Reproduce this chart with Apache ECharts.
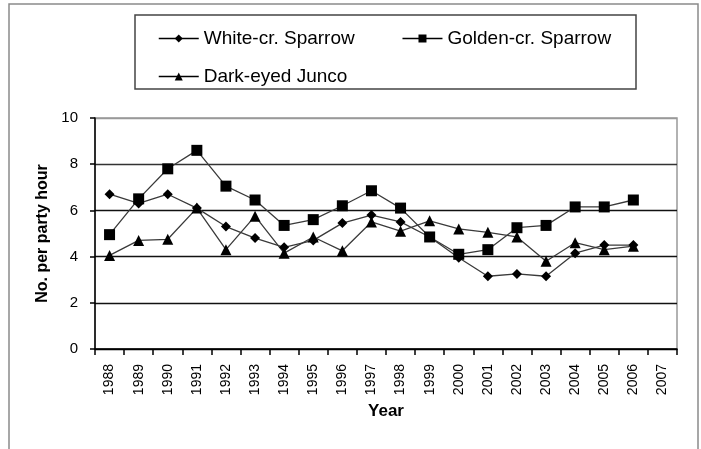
<!DOCTYPE html>
<html>
<head>
<meta charset="utf-8">
<script src="https://cdn.jsdelivr.net/npm/echarts@6/dist/echarts.min.js"></script>
<style>
    html, body { margin: 0; padding: 0; background: #fff; }
    #chart { width: 701px; height: 449px; }
</style>
</head>
<body>
<div id="chart"></div>
<script>
// 数据
var years = ['1988', '1989', '1990', '1991', '1992', '1993', '1994', '1995', '1996', '1997',
    '1998', '1999', '2000', '2001', '2002', '2003', '2004', '2005', '2006', '2007'];
var whiteCr = [6.7, 6.3, 6.7, 6.1, 5.3, 4.8, 4.4, 4.7, 5.45, 5.8, 5.5, 4.85, 3.95, 3.15, 3.25, 3.15, 4.15, 4.5, 4.5];
var goldenCr = [4.95, 6.5, 7.8, 8.6, 7.05, 6.45, 5.35, 5.6, 6.2, 6.85, 6.1, 4.85, 4.1, 4.3, 5.25, 5.35, 6.15, 6.15, 6.45];
var junco = [4.05, 4.7, 4.75, 6.1, 4.3, 5.75, 4.15, 4.85, 4.25, 5.5, 5.1, 5.55, 5.2, 5.05, 4.85, 3.8, 4.6, 4.3, 4.45];
var yTicks = [0, 2, 4, 6, 8, 10];

var FONT = '"Liberation Sans", Arial, sans-serif';

var chart = echarts.init(document.getElementById('chart'));

function lineSeries(name, data, symbol, size) {
    return {
        name: name,
        type: 'line',
        data: data,
        symbol: symbol,
        symbolSize: size,
        showAllSymbol: true,
        lineStyle: { color: '#3a3a3a', width: 1.3 },
        itemStyle: { color: '#000' },
        emphasis: { disabled: true },
        animation: false
    };
}

var legendBase = {
    left: 153,
    itemWidth: 40,
    itemHeight: 10,
    itemGap: 47,
    textStyle: { color: '#000', fontSize: 19, fontFamily: FONT },
    lineStyle: { color: '#000', width: 1.5 },
    selectedMode: false
};

var option = {
    backgroundColor: '#fff',
    animation: false,
    textStyle: { fontFamily: FONT },
    graphic: [{
        type: 'rect',
        shape: { x: 9, y: 4, width: 689, height: 500 },
        style: { fill: 'none', stroke: '#8a8a8a', lineWidth: 1.5 },
        z: -10
    }, {
        type: 'rect',
        shape: { x: 135, y: 15, width: 501, height: 74 },
        style: { fill: '#fff', stroke: '#444', lineWidth: 1.5 },
        z: -5
    }],
    legend: [
        Object.assign({}, legendBase, { top: 24, data: ['White-cr. Sparrow', 'Golden-cr. Sparrow'] }),
        Object.assign({}, legendBase, { top: 62, data: ['Dark-eyed Junco'] })
    ],
    grid: {
        left: 95,
        right: 24,
        top: 118,
        bottom: 100,
        show: true,
        borderColor: '#999',
        borderWidth: 1.5,
        backgroundColor: '#fff'
    },
    xAxis: {
        type: 'category',
        data: years,
        boundaryGap: true,
        name: 'Year',
        nameLocation: 'middle',
        nameGap: 54,
        nameTextStyle: { color: '#000', fontSize: 17, fontWeight: 'bold', fontFamily: FONT },
        axisLine: { lineStyle: { color: '#000', width: 1.5 } },
        axisTick: { show: true, inside: false, length: 6, interval: 0, lineStyle: { color: '#000', width: 1.5 } },
        axisLabel: { rotate: 90, interval: 0, margin: 15, color: '#000', fontSize: 14, fontFamily: FONT },
        splitLine: { show: false }
    },
    yAxis: {
        type: 'value',
        min: yTicks[0],
        max: yTicks[yTicks.length - 1],
        interval: 2,
        name: 'No. per party hour',
        nameLocation: 'middle',
        nameGap: 43,
        nameRotate: 90,
        nameTextStyle: { color: '#000', fontSize: 16, fontWeight: 'bold', fontFamily: FONT },
        axisLine: { show: true, lineStyle: { color: '#000', width: 1.5 } },
        axisTick: { show: true, inside: false, length: 5, lineStyle: { color: '#000', width: 1.5 } },
        axisLabel: { margin: 17, color: '#000', fontSize: 15, fontFamily: FONT },
        splitLine: {
            show: true,
            lineStyle: { color: ['#000', '#111', '#111', '#111', '#333', '#999'], width: 1.3 }
        }
    },
    series: [
        lineSeries('White-cr. Sparrow', whiteCr, 'diamond', 10),
        lineSeries('Golden-cr. Sparrow', goldenCr, 'rect', 11),
        lineSeries('Dark-eyed Junco', junco, 'triangle', 11)
    ]
};

chart.setOption(option);
</script>
</body>
</html>
